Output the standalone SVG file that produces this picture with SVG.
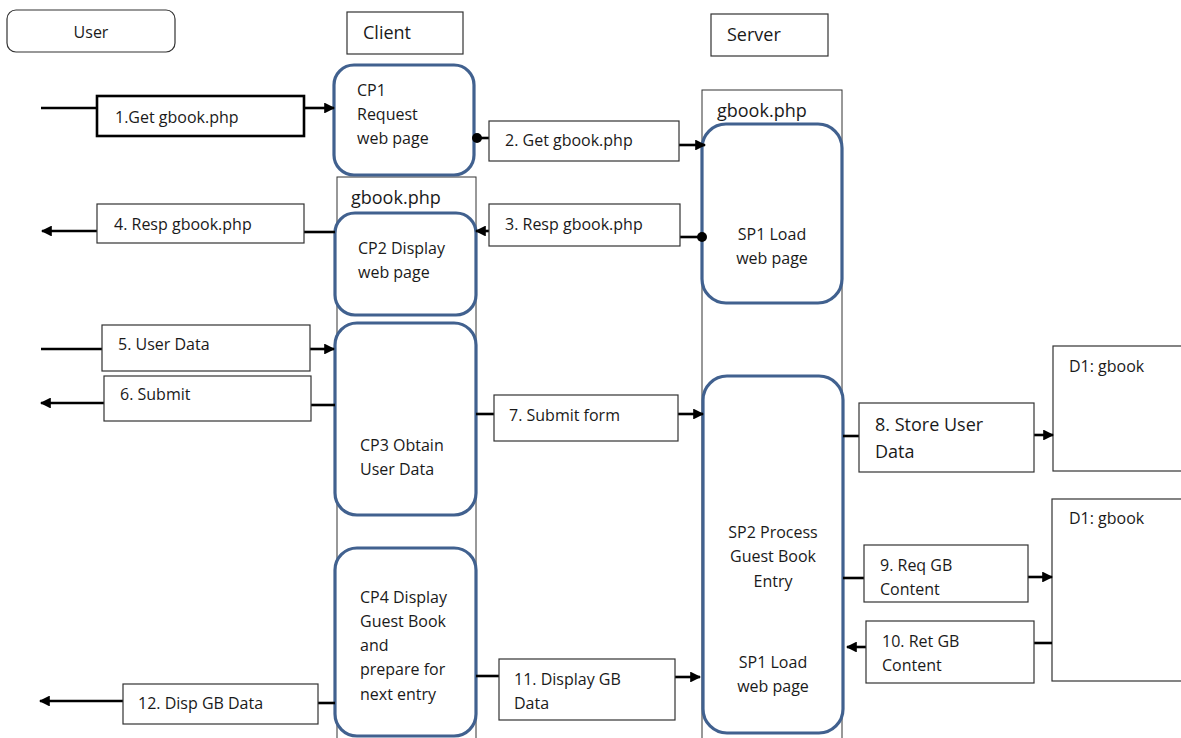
<svg xmlns="http://www.w3.org/2000/svg" width="1181" height="738" viewBox="0 0 1181 738">
<defs>
<style>
text{font-family:"Open Sans","Liberation Sans",sans-serif;font-size:16px;fill:#1a1a1a}
.big{font-size:18px}
.lbl{fill:#fff;stroke:#333;stroke-width:1.2}
.life{fill:#fff;stroke:#333;stroke-width:1}
.proc{fill:#fff;stroke:#41618f;stroke-width:3.2}
.ln{stroke:#000;stroke-width:2.6;fill:none}
.c{text-anchor:middle}
</style>
<marker id="ah" viewBox="0 0 10 10" refX="9" refY="5" markerWidth="4.2" markerHeight="4.2" orient="auto" markerUnits="strokeWidth">
<path d="M0,0 L10,5 L0,10 z" fill="#000"/>
</marker>
</defs>
<rect width="1181" height="738" fill="#fff"/>

<g id="user-header"><rect x="7" y="10" width="168" height="42" rx="9" fill="#fff" stroke="#333" stroke-width="1.2"/><text class="c" x="91" y="38">User</text></g>
<g id="client-header"><rect x="347" y="12" width="116" height="42" class="lbl"/><text class="big" x="363" y="39">Client</text></g>
<g id="server-header"><rect x="711" y="14" width="117" height="42" class="lbl"/><text class="big" x="727" y="41">Server</text></g>

<g id="client-lifeline"><rect x="337" y="177" width="139" height="570" class="life"/><text class="big" x="351" y="204">gbook.php</text></g>
<g id="server-lifeline"><rect x="702" y="90" width="140" height="660" class="life"/><text class="big" x="717" y="117">gbook.php</text></g>

<g id="d1-a"><rect x="1053" y="346" width="140" height="125" class="lbl"/><text x="1069" y="372">D1: gbook</text></g>
<g id="d1-b"><rect x="1052" y="499" width="140" height="182" class="lbl"/><text x="1069" y="524">D1: gbook</text></g>

<g id="cp1"><rect x="334" y="65" width="140" height="110" rx="20" class="proc"/><text x="357" y="96">CP1</text><text x="357" y="120">Request</text><text x="357" y="144">web page</text></g>
<g id="cp2"><rect x="335" y="213" width="141" height="102" rx="20" class="proc"/><text x="358" y="254">CP2 Display</text><text x="358" y="278">web page</text></g>
<g id="cp3"><rect x="335" y="323" width="141" height="192" rx="22" class="proc"/><text x="360" y="451">CP3 Obtain</text><text x="360" y="475">User Data</text></g>
<g id="cp4"><rect x="335" y="548" width="141" height="188" rx="22" class="proc"/><text x="360" y="603">CP4 Display</text><text x="360" y="627">Guest Book</text><text x="360" y="651">and</text><text x="360" y="675">prepare for</text><text x="360" y="700">next entry</text></g>
<g id="sp1"><rect x="702" y="124" width="140" height="179" rx="24" class="proc"/><text class="c" x="772" y="240">SP1 Load</text><text class="c" x="772" y="264">web page</text></g>
<g id="sp2"><rect x="703" y="376" width="140" height="357" rx="24" class="proc"/><text class="c" x="773" y="538">SP2 Process</text><text class="c" x="773" y="562">Guest Book</text><text class="c" x="773" y="587">Entry</text><text class="c" x="773" y="668">SP1 Load</text><text class="c" x="773" y="692">web page</text></g>

<g id="connectors">
<line class="ln" x1="41" y1="108" x2="97" y2="108"/>
<line class="ln" x1="304" y1="108" x2="334" y2="108" marker-end="url(#ah)"/>
<line class="ln" x1="477" y1="138" x2="489" y2="138"/><circle cx="477" cy="138" r="5" fill="#000"/>
<line class="ln" x1="679" y1="145" x2="705" y2="145" marker-end="url(#ah)"/>
<line class="ln" x1="489" y1="231" x2="476" y2="231" marker-end="url(#ah)"/>
<line class="ln" x1="680" y1="237" x2="702" y2="237"/><circle cx="702" cy="237" r="5" fill="#000"/>
<line class="ln" x1="335" y1="232" x2="304" y2="232"/>
<line class="ln" x1="97" y1="231" x2="42" y2="231" marker-end="url(#ah)"/>
<line class="ln" x1="41" y1="349" x2="102" y2="349"/>
<line class="ln" x1="310" y1="349" x2="334" y2="349" marker-end="url(#ah)"/>
<line class="ln" x1="335" y1="405" x2="311" y2="405"/>
<line class="ln" x1="104" y1="403" x2="41" y2="403" marker-end="url(#ah)"/>
<line class="ln" x1="476" y1="414" x2="494" y2="414"/>
<line class="ln" x1="678" y1="414" x2="703" y2="414" marker-end="url(#ah)"/>
<line class="ln" x1="843" y1="436" x2="859" y2="436"/>
<line class="ln" x1="1034" y1="435" x2="1053" y2="435" marker-end="url(#ah)"/>
<line class="ln" x1="843" y1="578" x2="864" y2="578"/>
<line class="ln" x1="1028" y1="577" x2="1052" y2="577" marker-end="url(#ah)"/>
<line class="ln" x1="1052" y1="643" x2="1034" y2="643"/>
<line class="ln" x1="866" y1="647" x2="847" y2="647" marker-end="url(#ah)"/>
<line class="ln" x1="476" y1="676" x2="499" y2="676"/>
<line class="ln" x1="675" y1="677" x2="700" y2="677" marker-end="url(#ah)"/>
<line class="ln" x1="335" y1="703" x2="318" y2="703"/>
<line class="ln" x1="123" y1="701" x2="40" y2="701" marker-end="url(#ah)"/>
</g>

<g id="lbl1"><rect x="97" y="96" width="207" height="40" fill="#fff" stroke="#000" stroke-width="2.6"/><text x="115" y="123">1.Get gbook.php</text></g>
<g id="lbl2"><rect x="489" y="121" width="190" height="40" class="lbl"/><text x="505" y="146">2. Get gbook.php</text></g>
<g id="lbl3"><rect x="489" y="204" width="191" height="42" class="lbl"/><text x="505" y="230">3. Resp gbook.php</text></g>
<g id="lbl4"><rect x="97" y="204" width="207" height="39" class="lbl"/><text x="114" y="230">4. Resp gbook.php</text></g>
<g id="lbl5"><rect x="102" y="325" width="208" height="46" class="lbl"/><text x="118" y="350">5. User Data</text></g>
<g id="lbl6"><rect x="104" y="376" width="207" height="45" class="lbl"/><text x="120" y="400">6. Submit</text></g>
<g id="lbl7"><rect x="494" y="395" width="184" height="46" class="lbl"/><text x="509" y="421">7. Submit form</text></g>
<g id="lbl8"><rect x="859" y="403" width="175" height="69" class="lbl"/><text class="big" x="875" y="431">8. Store User</text><text class="big" x="875" y="458">Data</text></g>
<g id="lbl9"><rect x="864" y="545" width="164" height="57" class="lbl"/><text x="880" y="571">9. Req GB</text><text x="880" y="595">Content</text></g>
<g id="lbl10"><rect x="866" y="621" width="168" height="62" class="lbl"/><text x="882" y="647">10. Ret GB</text><text x="882" y="671">Content</text></g>
<g id="lbl11"><rect x="499" y="659" width="176" height="61" class="lbl"/><text x="514" y="685">11. Display GB</text><text x="514" y="709">Data</text></g>
<g id="lbl12"><rect x="123" y="684" width="195" height="40" class="lbl"/><text x="138" y="709">12. Disp GB Data</text></g>
</svg>
